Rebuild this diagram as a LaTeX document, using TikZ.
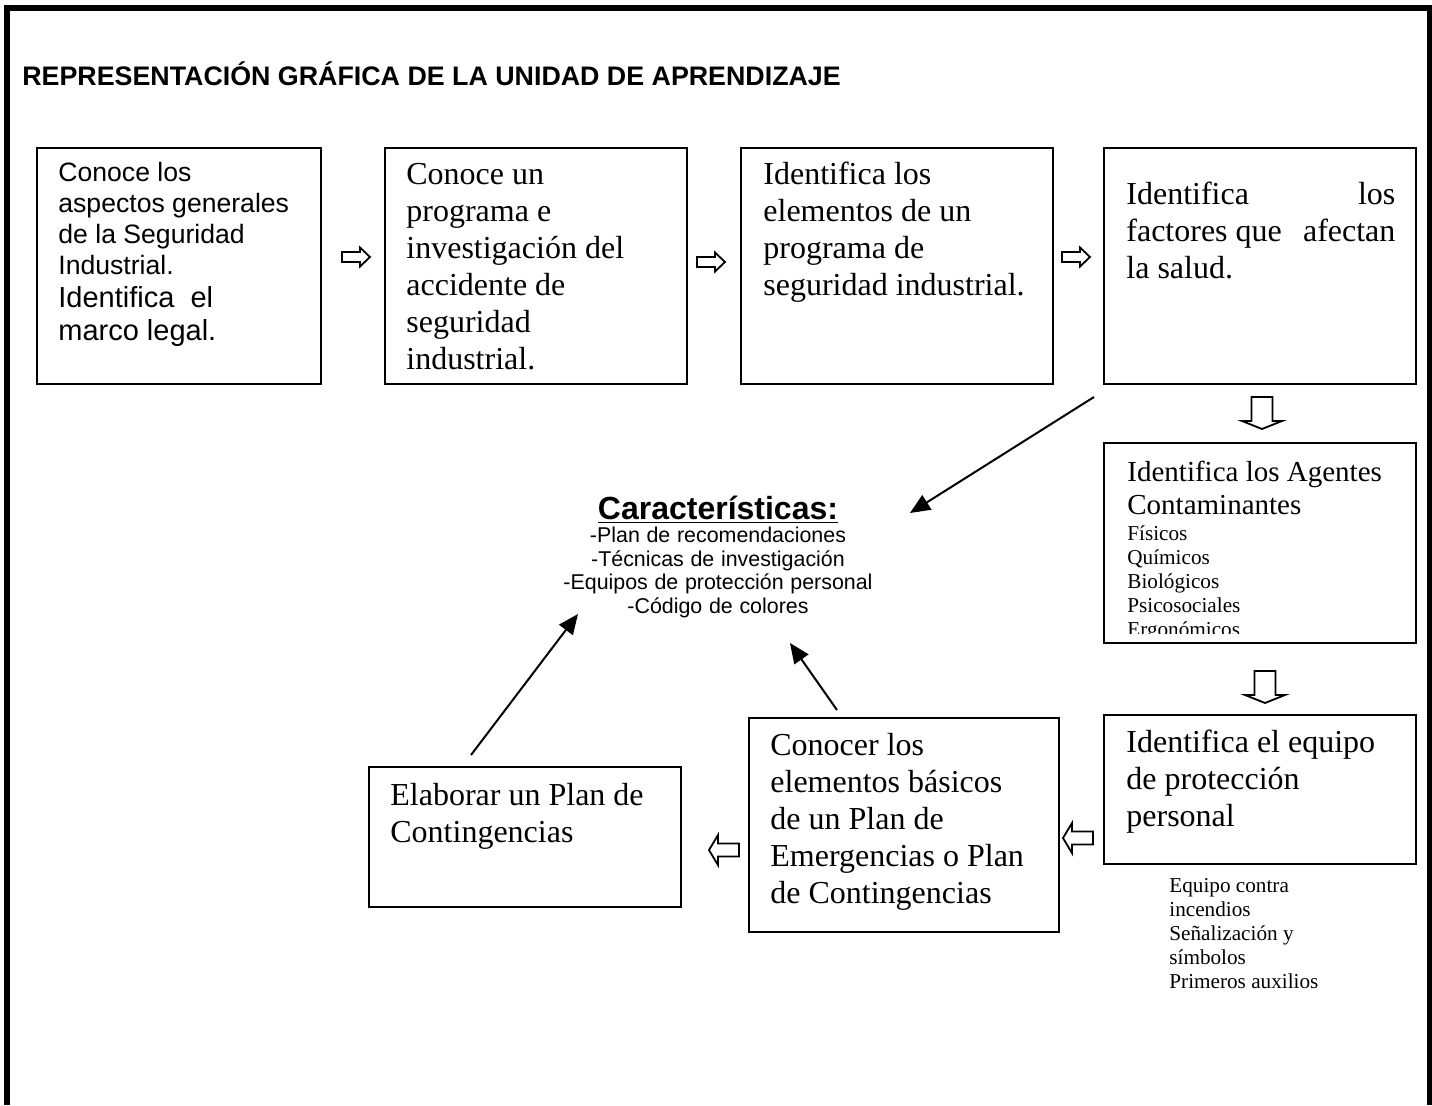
\documentclass[tikz,border=0pt]{standalone}
\usepackage{fontspec}
\setmainfont{Liberation Serif}
\setsansfont{Liberation Sans}
\usetikzlibrary{arrows.meta}
\usetikzlibrary{fit}

\begin{document}
\begin{tikzpicture}[x=0.5pt, y=-0.5pt,
        caja/.style={draw, line width=1pt, inner sep=0pt},
        texto/.style={anchor=base west, inner sep=0pt, align=flush left, text width=150pt},
        times/.style={font=\fontsize{16}{18.5}\selectfont},
        chica/.style={font=\fontsize{10.6}{12}\selectfont},
        hueca/.style={draw, line width=0.9pt, fill=white, line join=miter},
        conector/.style={line width=1pt, -{Triangle[length=10pt, width=8.5pt]}}]
        \useasboundingbox (0,0) rectangle (1432,1105);
        % marco
        \draw[line width=3pt] (7,1105) -- (7,8) -- (1429.5,8) -- (1429.5,1105);
        \node[anchor=base west, inner sep=0pt, font=\sffamily\bfseries\fontsize{13.4}{16}\selectfont] (Tit) at (22,85)
            {REPRESENTACIÓN GRÁFICA DE LA UNIDAD DE APRENDIZAJE};
        % cajas
        \node[caja, fit={(37,148) (321,384)}] (B1) {};
        \node[caja, fit={(385,148) (687,384)}] (B2) {};
        \node[caja, fit={(741,148) (1053,384)}] (B3) {};
        \node[caja, fit={(1104,148) (1416,384)}] (B4) {};
        \node[caja, fit={(1104,443) (1416,643)}] (B5) {};
        \node[caja, fit={(1104,715) (1416,864)}] (B6) {};
        \node[caja, fit={(749,718) (1059,932)}] (B7) {};
        \node[caja, fit={(369,767) (681,907)}] (B8) {};
        % textos
        \node[texto, font=\sffamily] (B1t) at (58,181)
            {{\fontsize{13.3}{15.5}\selectfont Conoce los\\ aspectos generales\\ de la Seguridad\\ Industrial.\par}
             \fontsize{14.5}{16.5}\selectfont Identifica\ \ el\\ marco legal.\par};
        \node[texto, times] (B2t) at (406,184)
            {Conoce un\\ programa e\\ investigación del\\ accidente de\\ seguridad\\ industrial.};
        \node[texto, times] (B3t) at (763,184)
            {Identifica los\\ elementos de un\\ programa de\\ seguridad industrial.};
        \node[texto, times, text width=134.5pt] (B4t) at (1126,204)
            {Identifica\hfill los\\ factores que\hfill afectan\\ la salud.};
        \begin{scope}
            \clip (1104,443) rectangle (1416,633);
            \node[texto] (B5t) at (1127,481)
                {{\fontsize{14.5}{16.7}\selectfont Identifica los Agentes\\ Contaminantes\par}\vspace{1pt}
                 \fontsize{10.6}{12}\selectfont Físicos\\ Químicos\\ Biológicos\\ Psicosociales\\ Ergonómicos\par};
        \end{scope}
        \node[texto, times] (B6t) at (1126,752)
            {Identifica el equipo\\ de protección\\ personal};
        \node[texto, chica] (B6l) at (1169,892)
            {Equipo contra\\ incendios\\ Señalización y\\ símbolos\\ Primeros auxilios};
        \node[texto, times] (B7t) at (770,755)
            {Conocer los\\ elementos básicos\\ de un Plan de\\ Emergencias o Plan\\ de Contingencias};
        \node[texto, times] (B8t) at (390,805)
            {Elaborar un Plan de\\ Contingencias};
        \node[anchor=base, inner sep=0pt, align=center, text width=220pt, font=\sffamily] (Car) at (718,519)
            {{\fontsize{16}{19}\selectfont\bfseries\underline{Características:}\par}
             \fontsize{10.7}{11.8}\selectfont -Plan de recomendaciones\\ -Técnicas de investigación\\
             -Equipos de protección personal\\ -Código de colores\par};
        % flechas huecas
        \draw[hueca, shift={(342,257)}] (0,-5) -- (18,-5) -- (18,-9.5) -- (28,0) -- (18,9.5) -- (18,5) -- (0,5) -- cycle;
        \draw[hueca, shift={(697,262)}] (0,-5) -- (18,-5) -- (18,-9.5) -- (28,0) -- (18,9.5) -- (18,5) -- (0,5) -- cycle;
        \draw[hueca, shift={(1062,257)}] (0,-5) -- (18,-5) -- (18,-9.5) -- (28,0) -- (18,9.5) -- (18,5) -- (0,5) -- cycle;
        \draw[hueca, shift={(1262,397)}] (-10.5,0) -- (-10.5,24) -- (-20,24) -- (0,32) -- (20,24) -- (10.5,24) -- (10.5,0) -- cycle;
        \draw[hueca, shift={(1265,671)}] (-10.5,0) -- (-10.5,24) -- (-20,24) -- (0,32) -- (20,24) -- (10.5,24) -- (10.5,0) -- cycle;
        \draw[hueca, shift={(1063,838)}] (0,0) -- (9,-15) -- (9,-6.5) -- (30,-6.5) -- (30,6.5) -- (9,6.5) -- (9,15) -- cycle;
        \draw[hueca, shift={(709,850)}] (0,0) -- (9,-15) -- (9,-6.5) -- (30,-6.5) -- (30,6.5) -- (9,6.5) -- (9,15) -- cycle;
        % flechas a Caracteristicas
        \coordinate (A1s) at (1094,397);
        \coordinate (A1e) at (910,513);
        \coordinate (A2s) at (471,755);
        \coordinate (A2e) at (578,614);
        \coordinate (A3s) at (837,710);
        \coordinate (A3e) at (790,643);
        \draw (A1s) edge[conector] (A1e);
        \draw (A2s) edge[conector] (A2e);
        \draw (A3s) edge[conector] (A3e);
    \end{tikzpicture}
\end{document}
